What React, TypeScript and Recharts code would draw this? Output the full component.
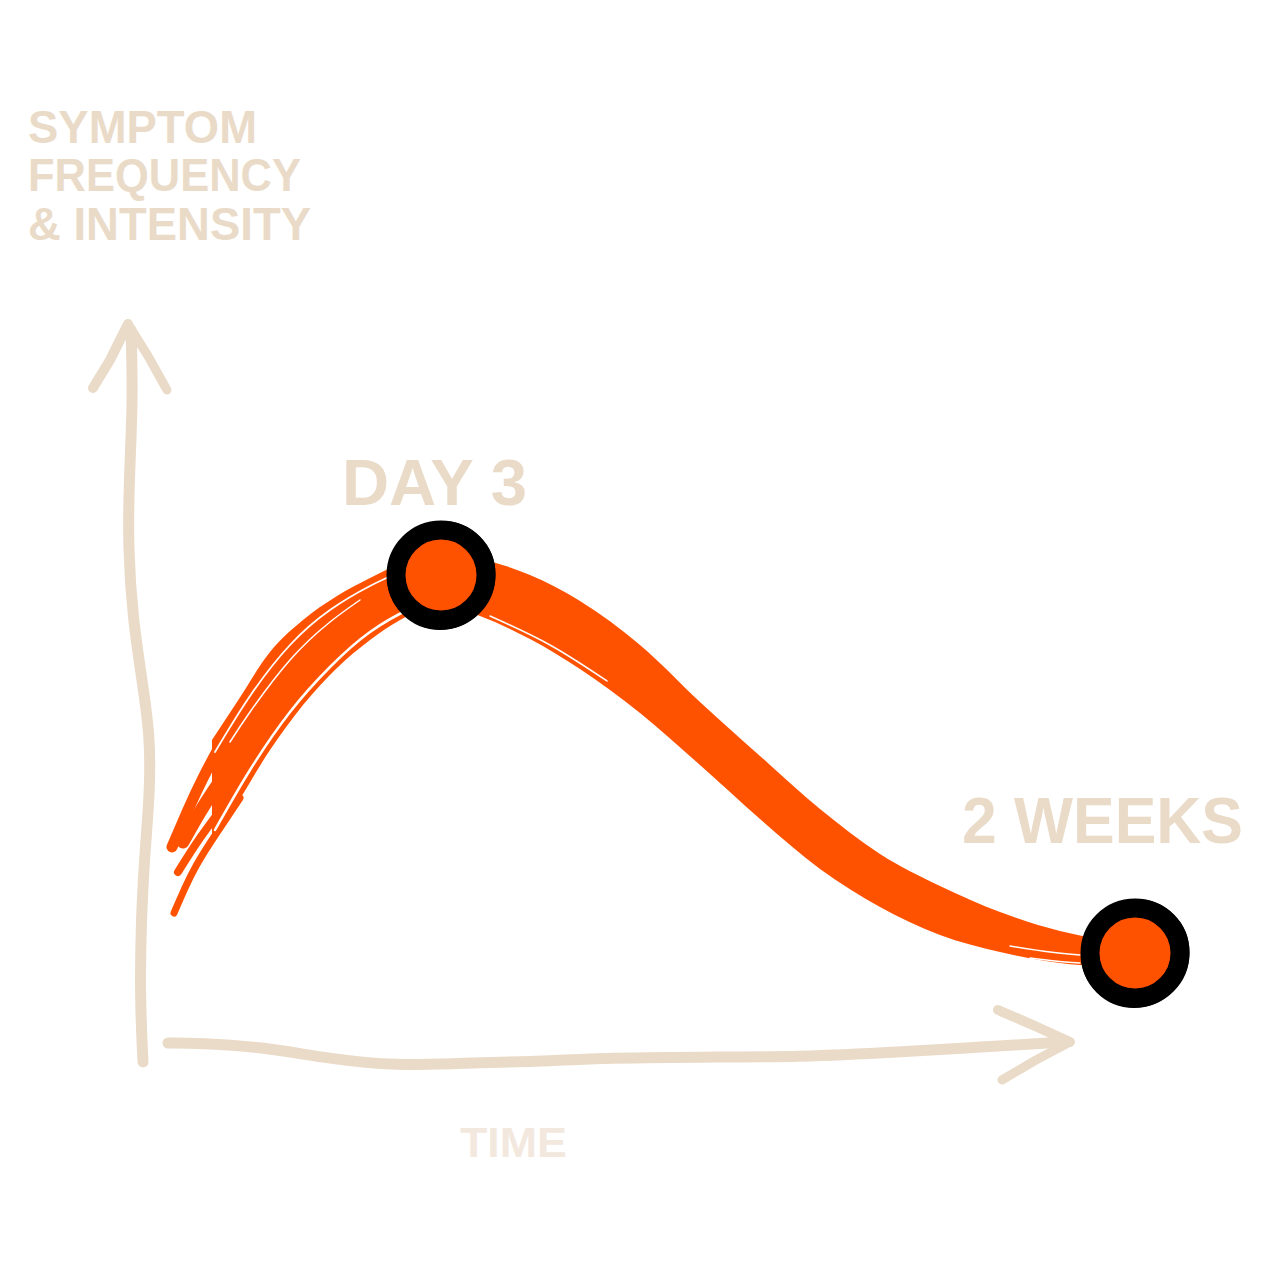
import React from "react";
import { Area, ComposedChart, Line, Scatter, XAxis, YAxis } from "recharts";

// canvas units: x grows right, y grows down (0..1280)
const W = 1280;
const H = 1280;
const ORANGE = "#FF5200";
const SAND = "#EADBC8";
const SAND_LIGHT = "#F3E8DE";

// main brush band (upper / lower edge)
const BAND_X = [212, 237, 270, 303, 337, 370, 400, 441, 480, 530, 580, 640, 700, 760, 820, 880, 940, 1000, 1060, 1100, 1135];
const BAND_TOP = [740, 702, 652, 620, 596, 578, 564, 554, 559, 575, 601, 645, 702, 756, 809, 854, 886, 912, 931, 939, 944];
const BAND_BOT = [845, 804, 750, 705, 668, 640, 620, 604, 616, 639, 669, 713, 765, 819, 869, 907, 935, 952, 963, 966, 966];

// thin dry-brush tails at the start of the curve
const TAIL_A = [[172, 847], [188, 810], [203, 778], [228, 732], [250, 700]];
const TAIL_B = [[174, 913], [185, 888], [196, 866], [212, 840], [240, 798]];
const TAIL_C = [[183, 842], [205, 804], [240, 752]];
const TAIL_D = [[178, 872], [200, 838], [228, 800]];

// white gaps between bristle strokes
const GAP_1 = [[215, 830], [250, 770], [290, 712], [330, 667], [370, 632], [410, 609], [430, 603]];
const GAP_2 = [[230, 742], [250, 712], [290, 660], [330, 622], [360, 600]];
const GAP_3 = [[215, 752], [250, 696], [290, 645], [330, 610], [370, 586], [400, 572]];
const GAP_4 = [[490, 616], [550, 645], [607, 681]];
const GAP_5 = [[1010, 946], [1050, 952], [1080, 955]];
const GAP_6 = [[1030, 958], [1055, 961], [1080, 963]];

// hand-drawn axes
const Y_AXIS = [[131, 330], [133, 400], [129, 480], [128, 550], [133, 620], [142, 680], [150, 735], [150, 790], [145, 850], [141, 920], [140, 1000], [143, 1062]];
const Y_HEAD_L = [[93, 388], [110, 360], [128, 324]];
const Y_HEAD_R = [[128, 324], [148, 356], [167, 390]];
const X_AXIS = [[168, 1043], [200, 1043], [263, 1047], [330, 1059], [397, 1066], [463, 1063], [530, 1062], [600, 1058], [700, 1057], [800, 1057], [900, 1052], [980, 1047], [1066, 1042]];
const X_HEAD_U = [[998, 1010], [1035, 1026], [1070, 1042]];
const X_HEAD_D = [[1070, 1042], [1036, 1060], [1002, 1080]];

// milestones
const MARKS = [
  { x: 441, y: 575 },
  { x: 1135, y: 953 },
];

const pts = (a: number[][]) => a.map(([x, y]) => ({ x, y }));
const band = BAND_X.map((x, i) => ({ x, r: [BAND_TOP[i], BAND_BOT[i]] }));

function Ring(props: any) {
  const { cx, cy } = props;
  return (
    <g>
      <circle cx={cx} cy={cy} r={45} fill={ORANGE} stroke="#000" strokeWidth={19} />
      <circle cx={cx + 1.5} cy={cy - 1} r={46} fill="none" stroke="#000" strokeWidth={14} />
      <circle cx={cx - 1} cy={cy + 2} r={46} fill="none" stroke="#000" strokeWidth={14} />
    </g>
  );
}

const stroke = (key: string, data: number[][], color: string, w: number, type: any = "natural") => (
  <Line
    key={key}
    data={pts(data)}
    dataKey="y"
    type={type}
    stroke={color}
    strokeWidth={w}
    strokeLinecap="round"
    strokeLinejoin="round"
    dot={false}
    activeDot={false}
    isAnimationActive={false}
  />
);

const TEXT = { fontFamily: "'Liberation Sans', Arial, sans-serif", fontWeight: 700 };

export default function App() {
  return (
    <div style={{ position: "absolute", left: 0, top: 0, width: W, height: H, background: "#fff" }}>
      <ComposedChart width={W} height={H} margin={{ top: 0, right: 0, bottom: 0, left: 0 }}>
        <XAxis type="number" dataKey="x" domain={[0, W]} hide allowDataOverflow />
        <YAxis type="number" domain={[0, H]} reversed hide allowDataOverflow />
        {stroke("ya", Y_AXIS, SAND, 11, "basis")}
        {stroke("yl", Y_HEAD_L, SAND, 10, "linear")}
        {stroke("yr", Y_HEAD_R, SAND, 9, "linear")}
        {stroke("xa", X_AXIS, SAND, 11, "basis")}
        {stroke("xu", X_HEAD_U, SAND, 10, "linear")}
        {stroke("xd", X_HEAD_D, SAND, 9, "linear")}
        <Area
          data={band}
          dataKey="r"
          type="monotone"
          stroke="none"
          fill={ORANGE}
          fillOpacity={1}
          activeDot={false}
          isAnimationActive={false}
        />
        {stroke("ta", TAIL_A, ORANGE, 11)}
        {stroke("tb", TAIL_B, ORANGE, 7)}
        {stroke("tc", TAIL_C, ORANGE, 13)}
        {stroke("td", TAIL_D, ORANGE, 8)}
        {stroke("g1", GAP_1, "#fff", 2.5)}
        {stroke("g2", GAP_2, "#fff", 1.5)}
        {stroke("g3", GAP_3, "#fff", 1.8)}
        {stroke("g4", GAP_4, "#fff", 1.5)}
        {stroke("g5", GAP_5, "#fff", 1.5)}
        {stroke("g6", GAP_6, "#fff", 1.5)}
        <Scatter data={MARKS} dataKey="y" shape={<Ring />} isAnimationActive={false} />
      </ComposedChart>
      <svg width={W} height={H} style={{ position: "absolute", left: 0, top: 0, pointerEvents: "none" }}>
        <g {...TEXT} fill={SAND} fontSize={46}>
          <text x={28} y={143} textLength={229} lengthAdjust="spacingAndGlyphs">SYMPTOM</text>
          <text x={28} y={191} textLength={273} lengthAdjust="spacingAndGlyphs">FREQUENCY</text>
          <text x={28} y={240} textLength={283} lengthAdjust="spacingAndGlyphs">&amp; INTENSITY</text>
        </g>
        <g {...TEXT} fill={SAND} fontSize={64}>
          <text x={342} y={505} textLength={185} lengthAdjust="spacingAndGlyphs">DAY 3</text>
          <text x={962} y={843} textLength={281} lengthAdjust="spacingAndGlyphs">2 WEEKS</text>
        </g>
        <text {...TEXT} x={460} y={1157} fill={SAND_LIGHT} fontSize={42} textLength={107} lengthAdjust="spacingAndGlyphs">TIME</text>
      </svg>
    </div>
  );
}
